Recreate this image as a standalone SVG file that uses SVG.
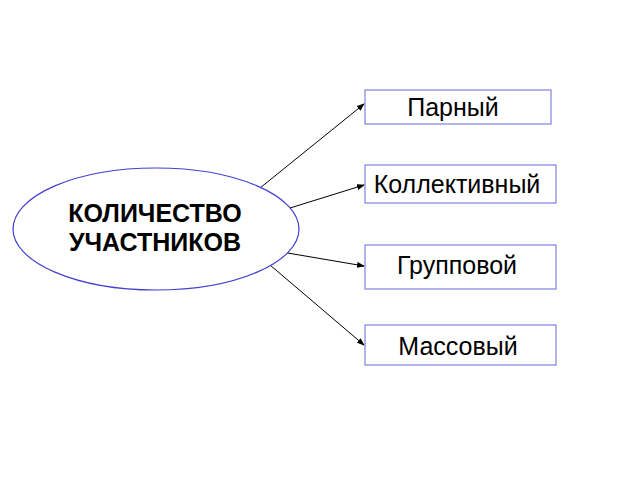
<svg xmlns="http://www.w3.org/2000/svg" width="640" height="480" viewBox="0 0 640 480">
<style>
.box{fill:#fff;stroke:#8080e0;stroke-width:1.2}
.t{font-family:"Liberation Sans",Arial,sans-serif;font-size:25px;fill:#000}
.c{stroke:#000;stroke-width:1;fill:none;marker-end:url(#a)}
</style>
<defs><marker id="a" markerWidth="8" markerHeight="6" refX="7" refY="3" orient="auto" markerUnits="userSpaceOnUse"><path d="M0,0 L8,3 L0,6 z" fill="#000"/></marker></defs>
<rect width="640" height="480" fill="#fff"/>
<g id="connectors">
<line class="c" x1="260" y1="188" x2="364" y2="104"/>
<line class="c" x1="290" y1="208" x2="364" y2="185"/>
<line class="c" x1="270" y1="250" x2="364" y2="266"/>
<line class="c" x1="270" y1="265" x2="364" y2="345"/>
</g>
<g id="main"><ellipse cx="156" cy="229" rx="143" ry="61" fill="#fff" stroke="#4040d0" stroke-width="1.2"/>
<text class="t" x="155" y="222" text-anchor="middle" font-weight="bold" font-size="24">КОЛИЧЕСТВО</text>
<text class="t" x="155" y="251" text-anchor="middle" font-weight="bold" font-size="24">УЧАСТНИКОВ</text></g>
<g id="n1"><rect class="box" x="365" y="90" width="186" height="34"/><text class="t" x="453" y="116" text-anchor="middle">Парный</text></g>
<g id="n2"><rect class="box" x="365" y="165" width="191" height="38"/><text class="t" x="457" y="193" text-anchor="middle">Коллективный</text></g>
<g id="n3"><rect class="box" x="365" y="245" width="191" height="44"/><text class="t" x="457" y="274" text-anchor="middle">Групповой</text></g>
<g id="n4"><rect class="box" x="365" y="325" width="191" height="40"/><text class="t" x="458" y="355" text-anchor="middle">Массовый</text></g>
</svg>
